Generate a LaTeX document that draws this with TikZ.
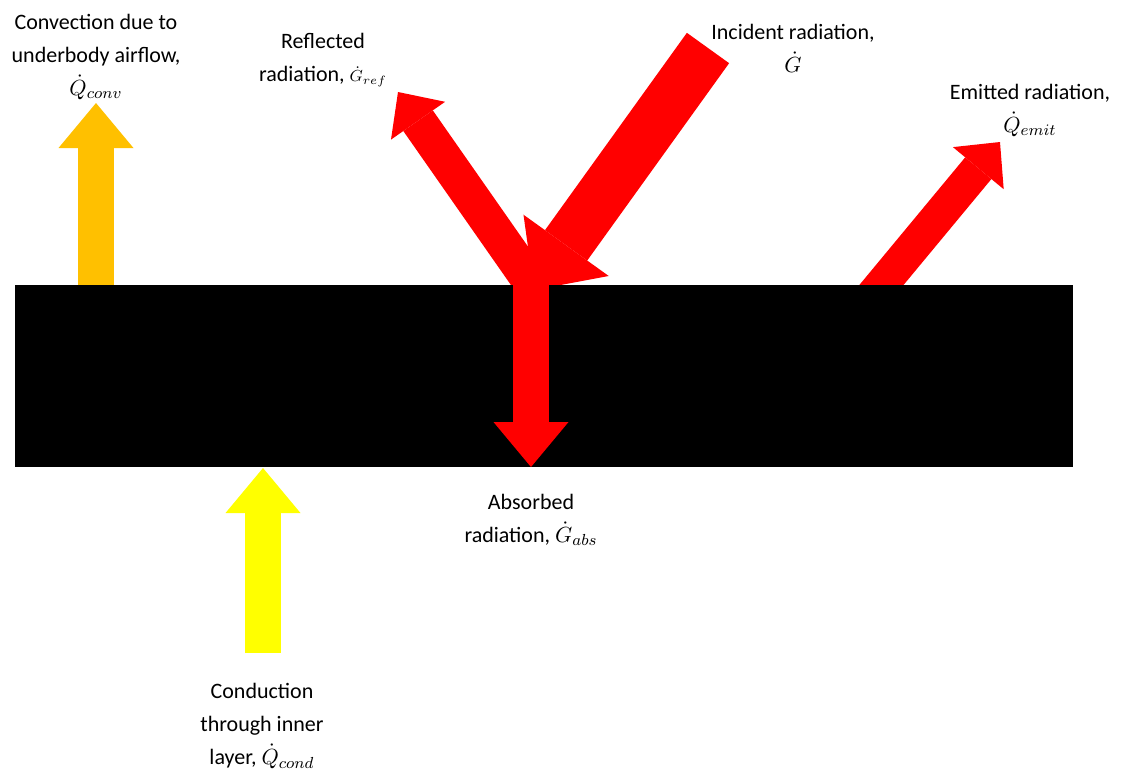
\documentclass[tikz,border=0pt]{standalone}
\usepackage{fontspec}
\setmainfont{Carlito}
\usepackage{xcolor}
\usetikzlibrary{arrows.meta}
\definecolor{convgold}{HTML}{FFC000}
\definecolor{radred}{HTML}{FF0000}
\definecolor{condyel}{HTML}{FFFF00}

\begin{document}
\begin{tikzpicture}[
  x=0.5pt, y=-0.5pt,
  font=\fontsize{11}{16.5}\selectfont,
  lbl/.style={align=center, inner sep=0pt},
  fat/.style n args={3}{line width=#1, -{Triangle[length=#2, width=#3, line width=0pt]}},
  flow/.style={fat={18pt}{22.5pt}{37.5pt}},
]
\useasboundingbox (0,0) rectangle (1126,778);

% arrow ends
\coordinate (incS) at (708,48);
\coordinate (incE) at (534,290);
\coordinate (refS) at (535,288);
\coordinate (refE) at (398,92);
\coordinate (emS)  at (869,300);
\coordinate (emE)  at (1000,142);
\coordinate (cvS)  at (96,286);
\coordinate (cvE)  at (96,103);
\coordinate (abS)  at (531,270);
\coordinate (abE)  at (531,467);
\coordinate (cdS)  at (263,653);
\coordinate (cdE)  at (263,468);

% behind the slab
\draw[fat={26pt}{27.5pt}{52.5pt}, radred] (incS) -- (incE);
\draw[fat={18pt}{17.5pt}{33pt}, radred] (refS) -- (refE);
\draw[fat={17pt}{17pt}{33pt}, radred] (emS) -- (emE);
\draw[flow, convgold] (cvS) -- (cvE);

% slab
\fill[black] (15,285) rectangle (1073,467);

\draw[flow, radred] (abS) -- (abE);
\draw[flow, condyel] (cdS) -- (cdE);

% labels
\node[lbl] (cvL) at (96,57) {Convection due to\\underbody airflow,\\$\dot{Q}_{conv}$};
\node[lbl] (refL) at (323,60) {Reflected\\radiation, {\footnotesize$\dot{G}_{ref}$}};
\node[lbl] (incL) at (793,48) {Incident radiation,\\$\dot{G}$};
\node[lbl] (emL) at (1030,110) {Emitted radiation,\\$\dot{Q}_{emit}$};
\node[lbl] (abL) at (531,520) {Absorbed\\radiation, $\dot{G}_{abs}$};
\node[lbl] (cdL) at (262,726) {Conduction\\through inner\\layer, $\dot{Q}_{cond}$};
\end{tikzpicture}
\end{document}
